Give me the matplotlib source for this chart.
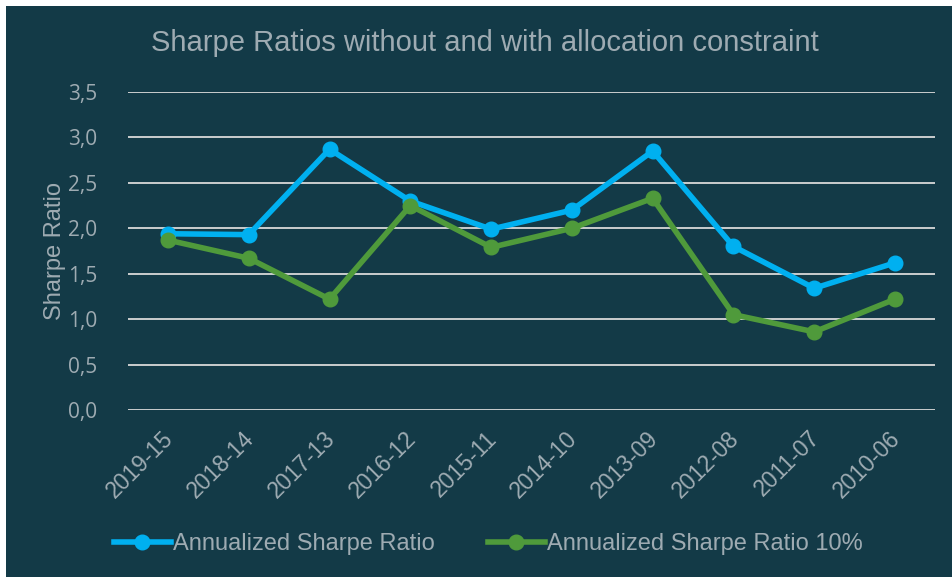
import matplotlib.pyplot as plt
from matplotlib.patches import Rectangle
from matplotlib.transforms import ScaledTranslation

periods = ["2019-15", "2018-14", "2017-13", "2016-12", "2015-11",
           "2014-10", "2013-09", "2012-08", "2011-07", "2010-06"]
sharpe = [1.94, 1.93, 2.87, 2.30, 1.99, 2.20, 2.85, 1.80, 1.34, 1.62]
sharpe_10 = [1.87, 1.67, 1.22, 2.25, 1.79, 2.00, 2.33, 1.05, 0.86, 1.22]
yticks = [0.0, 0.5, 1.0, 1.5, 2.0, 2.5, 3.0, 3.5]

BG = "#133a47"
TXT = "#9eabb2"
BLUE = "#00b0f0"
GREEN = "#4f9a3b"

fig = plt.figure(figsize=(9.52, 5.77), dpi=100)
fig.patch.set_facecolor("white")
fig.patches.append(Rectangle((6 / 952, 0), 1, 1 - 6 / 577, transform=fig.transFigure,
                             facecolor=BG, edgecolor="none", zorder=-10))

ax = fig.add_axes([0.134, 0.2894, 0.8486, 0.5512])
ax.set_facecolor(BG)
x = list(range(len(periods)))
ax.plot(x, sharpe, color=BLUE, lw=4, marker="o", ms=10.5, label="Annualized Sharpe Ratio", zorder=3)
ax.plot(x, sharpe_10, color=GREEN, lw=4, marker="o", ms=10.5, label="Annualized Sharpe Ratio 10%", zorder=3)

ax.set_xlim(-0.5, len(periods) - 0.5)
ax.set_ylim(0, 3.5)
ax.set_yticks(yticks)
ax.set_yticklabels([f"{v:.1f}".replace(".", ",") for v in yticks], fontfamily="Open Sans", fontsize=15, color=TXT)
ax.grid(axis="y", color="#d9d9d9", lw=1.3)
ax.set_axisbelow(True)
ax.tick_params(length=0, pad=22)
ax.tick_params(axis="x", pad=12)
for s in ax.spines.values():
    s.set_visible(False)

ax.set_xticks(x)
ax.set_xticklabels(periods, rotation=45, ha="right", rotation_mode="anchor",
                   fontfamily="Liberation Sans", fontsize=16.5, color=TXT)
shift = ScaledTranslation(-6 / 100, 0, fig.dpi_scale_trans)
for lbl in ax.get_xticklabels():
    lbl.set_transform(lbl.get_transform() + shift)

ax.set_ylabel("Sharpe Ratio", fontfamily="Liberation Sans", fontsize=17, color=TXT, labelpad=1)
fig.text(0.509, 0.9255, "Sharpe Ratios without and with allocation constraint",
         ha="center", va="center", fontfamily="Liberation Sans", fontsize=21, color=TXT)

leg = fig.legend(loc="center", bbox_to_anchor=(0.513, 0.057), ncol=2, frameon=False,
                 handlelength=2.4, handletextpad=0.1, columnspacing=2.25,
                 prop={"family": "Liberation Sans", "size": 17})
for t in leg.get_texts():
    t.set_color(TXT)

fig.savefig("out.png", dpi=100, facecolor=fig.get_facecolor())
